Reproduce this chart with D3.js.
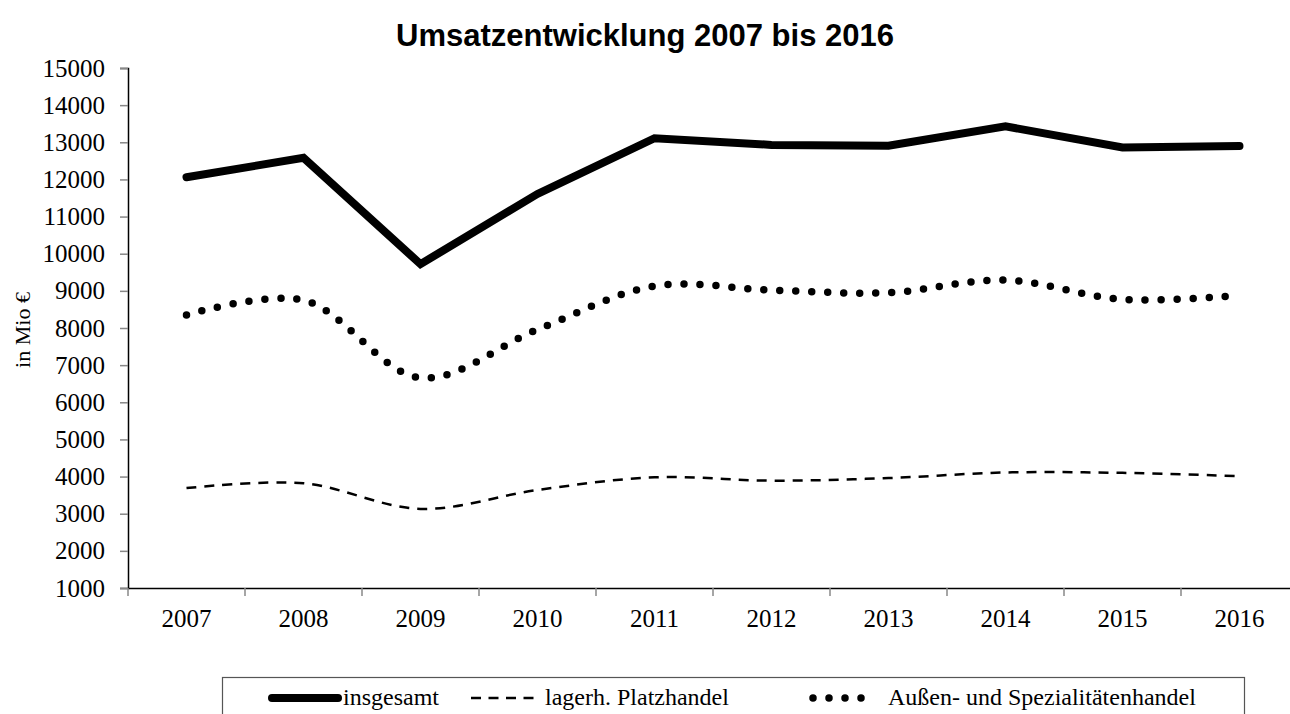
<!DOCTYPE html>
<html>
<head>
<meta charset="utf-8">
<script src="https://cdn.jsdelivr.net/npm/d3@7"></script>
<style>
  body { margin: 0; background: #fff; overflow: hidden; }
  text { font-family: "Liberation Serif", "Times New Roman", serif; fill: #000; }
  .title { font-family: "Liberation Sans", Arial, sans-serif; font-weight: bold; }
</style>
</head>
<body>
<div id="chart"></div>
<script>
const years = ["2007", "2008", "2009", "2010", "2011", "2012", "2013", "2014", "2015", "2016"]
const insgesamt = [12060, 12580, 9720, 11610, 13110, 12930, 12910, 13430, 12860, 12900]
const platzhandel = [3690, 3820, 3130, 3640, 3980, 3890, 3960, 4110, 4100, 4010]
const aussenhandel = [8350, 8750, 6660, 7960, 9130, 9020, 8950, 9290, 8770, 8880]
const yTicks = [1000, 2000, 3000, 4000, 5000, 6000, 7000, 8000, 9000, 10000, 11000, 12000, 13000, 14000, 15000]
const seriesNames = ["insgesamt", "lagerh. Platzhandel", "Außen- und Spezialitätenhandel"]

const svgWidth = 1290
const svgHeight = 714

let svg = d3.select("#chart")
  .append("svg")
  .attr("width", svgWidth)
  .attr("height", svgHeight)

let x = d3.scaleBand()
  .domain(years)
  .range([128, 1298])
  .padding(0)

let y = d3.scaleLinear()
  .domain([1000, 15000])
  .range([588, 68])

// title
svg.append("text")
  .attr("class", "title")
  .attr("x", 645)
  .attr("y", 46)
  .attr("text-anchor", "middle")
  .style("font-size", "31px")
  .text("Umsatzentwicklung 2007 bis 2016")

// y axis
let yAxis = svg.append("g")
  .attr("transform", "translate(128,0)")
  .call(d3.axisLeft(y).tickValues(yTicks).tickSize(8).tickPadding(15).tickFormat(d3.format("d")))
yAxis.select(".domain").attr("stroke", "#000").attr("stroke-width", 1.5)
yAxis.selectAll(".tick line").attr("stroke", "#888").attr("stroke-width", 1.5)
yAxis.selectAll(".tick text")
  .style("font-size", "25px")
  .style("font-family", "Liberation Serif")

// x axis: labels centred in bands, ticks at band edges
let xAxis = svg.append("g")
  .attr("transform", "translate(0,588)")
  .call(d3.axisBottom(x).tickSize(0).tickPadding(21))
xAxis.select(".domain").attr("stroke", "#000").attr("stroke-width", 1.5)
xAxis.selectAll(".tick text")
  .style("font-size", "25px")
  .style("font-family", "Liberation Serif")

xAxis.selectAll(".edge")
  .data(years)
  .enter()
  .append("line")
  .attr("class", "edge")
  .attr("x1", d => x(d))
  .attr("x2", d => x(d))
  .attr("y1", 0)
  .attr("y2", 8)
  .attr("stroke", "#888")
  .attr("stroke-width", 1.5)

// y label
svg.append("text")
  .attr("transform", "translate(30,330)rotate(-90)")
  .attr("text-anchor", "middle")
  .style("font-size", "22px")
  .text("in Mio €")

const cx = d => x(d) + x.bandwidth() / 2

let lineStraight = d3.line()
  .x((d, i) => cx(years[i]))
  .y(d => y(d))

let lineSmooth = d3.line()
  .x((d, i) => cx(years[i]))
  .y(d => y(d))
  .curve(d3.curveCatmullRom.alpha(0.5))

// styles for the three series
const styles = [
  { width: 8, dash: null, cap: "round", line: lineStraight },
  { width: 2.5, dash: "10 8", cap: "butt", line: lineSmooth },
  { width: 7.5, dash: "0 16", cap: "round", line: lineSmooth }
]
const allSeries = [insgesamt, platzhandel, aussenhandel]

allSeries.forEach((s, i) => {
  svg.append("path")
    .datum(s)
    .attr("d", styles[i].line)
    .attr("fill", "none")
    .attr("stroke", "#000")
    .attr("stroke-width", styles[i].width)
    .attr("stroke-linecap", styles[i].cap)
    .attr("stroke-linejoin", "miter")
    .attr("stroke-dasharray", styles[i].dash)
})

// legend
let legend = svg.append("g")

legend.append("rect")
  .attr("x", 222.5)
  .attr("y", 677.5)
  .attr("width", 1022)
  .attr("height", 80)
  .attr("fill", "none")
  .attr("stroke", "#555")
  .attr("stroke-width", 1.2)

const legendItems = [
  { x1: 272, x2: 338, tx: 343, dash: null },
  { x1: 471, x2: 534, tx: 545, dash: "10 7.5" },
  { x1: 813, x2: 877, tx: 888, dash: "0 16" }
]

legendItems.forEach((it, i) => {
  legend.append("line")
    .attr("x1", it.x1)
    .attr("x2", it.x2)
    .attr("y1", 698)
    .attr("y2", 698)
    .attr("stroke", "#000")
    .attr("stroke-width", styles[i].width)
    .attr("stroke-linecap", styles[i].cap)
    .attr("stroke-dasharray", it.dash)
  legend.append("text")
    .attr("x", it.tx)
    .attr("y", 705)
    .style("font-size", "24px")
    .text(seriesNames[i])
})
</script>
</body>
</html>
